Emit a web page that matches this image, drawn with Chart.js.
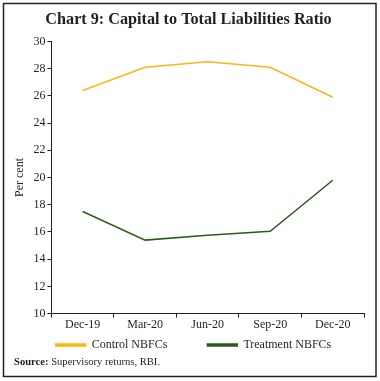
<!DOCTYPE html>
<html>
<head>
<meta charset="utf-8">
<script src="https://cdn.jsdelivr.net/npm/chart.js@4.4.0/dist/chart.umd.min.js"></script>
<style>
html,body{margin:0;padding:0;background:#fff;}
#wrap{position:relative;width:380px;height:381px;}
#src{position:absolute;left:14px;top:356px;font-family:'Liberation Serif','DejaVu Serif',serif;font-size:10.6px;color:#231f20;white-space:nowrap;}
</style>
</head>
<body>
<div id="wrap"><canvas id="c" width="380" height="381"></canvas>
<div id="src"><b>Source:</b> Supervisory returns, RBI.</div></div>
<script>
const categories = ['Dec-19','Mar-20','Jun-20','Sep-20','Dec-20'];
const controlNBFCs = [26.4, 28.1, 28.5, 28.1, 25.9];
const treatmentNBFCs = [17.5, 15.4, 15.75, 16.05, 19.8];
const yTicks = [10,12,14,16,18,20,22,24,26,28,30];

const serif = "'Liberation Serif', 'DejaVu Serif', serif";

const borderPlugin = {
  id: 'outerBorder',
  afterLayout(chart) {
    if (chart.legend) { chart.legend.left += 5; chart.legend.right += 5; }
  },
  afterDraw(chart) {
    const ctx = chart.ctx;
    ctx.save();
    ctx.strokeStyle = '#222';
    ctx.lineWidth = 1.5;
    ctx.strokeRect(3.5, 3.5, 372.5, 373);
    ctx.restore();
  }
};

new Chart(document.getElementById('c'), {
  type: 'line',
  data: {
    labels: categories,
    datasets: [
      {label: 'Control NBFCs', data: controlNBFCs, borderColor: '#FDB515', backgroundColor: '#FDB515', borderWidth: 1.5, pointRadius: 0, tension: 0},
      {label: 'Treatment NBFCs', data: treatmentNBFCs, borderColor: '#2E5A1C', backgroundColor: '#2E5A1C', borderWidth: 1.5, pointRadius: 0, tension: 0}
    ]
  },
  options: {
    responsive: false,
    animation: false,
    devicePixelRatio: 1,
    layout: {padding: {left: 13, right: 16, top: 6, bottom: 20}},
    plugins: {
      title: {display: true, text: 'Chart 9: Capital to Total Liabilities Ratio', color: '#231f20',
        font: {family: serif, size: 16.2, weight: 'bold'}, padding: {top: 4, bottom: 12}},
      legend: {position: 'bottom', labels: {boxWidth: 30, boxHeight: 2, color: '#231f20',
        font: {family: serif, size: 12}, padding: 7,
        generateLabels(chart) {
          const items = Chart.defaults.plugins.legend.labels.generateLabels(chart);
          items.forEach((it, i) => { if (i === 0) it.text = it.text + '\u00A0'.repeat(11); });
          return items;
        }}},
      tooltip: {enabled: false}
    },
    scales: {
      x: {
        offset: true,
        grid: {display: true, offset: true, drawOnChartArea: false, drawTicks: true, tickLength: 4, color: '#231f20'},
        border: {color: '#231f20', width: 1},
        ticks: {color: '#231f20', font: {family: serif, size: 12}, padding: 0, maxRotation: 0}
      },
      y: {
        min: 10, max: 30,
        afterBuildTicks(scale) { scale.ticks = yTicks.map(v => ({value: v})); },
        grid: {display: true, drawOnChartArea: false, drawTicks: true, tickLength: 4, color: '#231f20'},
        border: {color: '#231f20', width: 1},
        title: {display: true, text: 'Per cent', color: '#231f20', font: {family: serif, size: 12}, padding: {top: 0, bottom: 4}},
        ticks: {color: '#231f20', font: {family: serif, size: 12}, padding: 2}
      }
    }
  },
  plugins: [borderPlugin]
});
</script>
</body>
</html>
